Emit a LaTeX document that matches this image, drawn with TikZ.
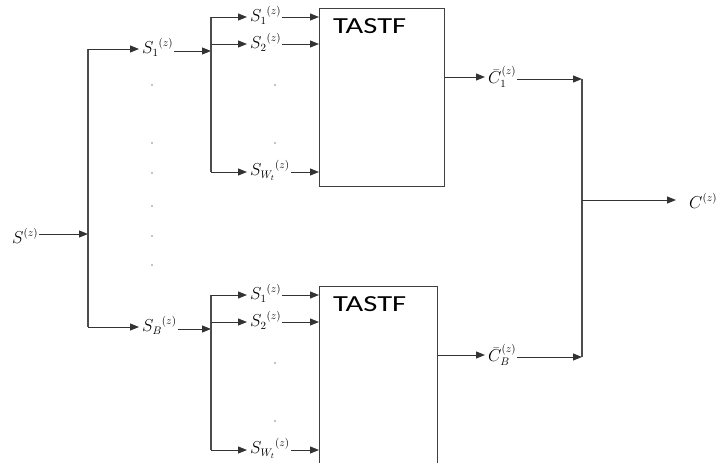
\documentclass[tikz,border=0pt]{standalone}
\usepackage{amsmath,amssymb}
\usepackage{fontspec}
\usepackage{graphicx}
\usepackage{tikz}
\usetikzlibrary{arrows.meta}
\setsansfont{Carlito}

\tikzset{
  sig/.style={inner sep=1pt, anchor=west, font=\fontsize{16}{16}\selectfont},
  flow/.style={draw=black!80, line width=1pt, -{Triangle[length=9pt,width=7pt]}},
  wire/.style={draw=black!70, line width=1.3pt},
  tastfbox/.style={draw=black!75, line width=1pt, anchor=north west, inner sep=0pt}
}
\newcommand{\blocktitle}{\scalebox{1.33}[1]{\fontsize{23}{23}\selectfont\sffamily TASTF}}

\begin{document}
\begin{tikzpicture}[x=1pt, y=-1pt]
  \useasboundingbox (0,0) rectangle (716,463);

  \node[sig] (sin) at (11,236) {$S^{(z)}$};
  \coordinate (split) at (88,234);
  \draw[flow] (sin.east |- split) -- (split);
  \coordinate (br1) at (88,49);
  \coordinate (br2) at (88,327);
  \draw[wire] (br1) -- (br2);
  \foreach \y in {85, 143, 173, 206, 236, 265}
    \fill (152,\y) circle (0.7pt);

  \foreach \k/\dy/\lb/\w/\h in {1/0/1/125/178, 2/278/B/118/185} {
    \node[sig] (in\k) at (141,47+\dy) {${S_{\lb}}^{(z)}$};
    \draw[flow, shorten >=2pt] (br\k) -- (in\k.west |- br\k);
    \coordinate (sp\k) at (211,51+\dy);
    \draw[flow] (in\k.east |- sp\k) -- (sp\k);
    \coordinate (top\k) at (211,17+\dy);
    \coordinate (bot\k) at (211,172+\dy);
    \draw[wire] (top\k) -- (bot\k);

    \node[tastfbox, minimum width=\w pt, minimum height=\h pt] (tastf\k) at (319,8+\dy) {};
    \node[anchor=west, inner sep=0pt] (title\k) at (333,26+\dy) {\blocktitle};

    \foreach \j/\yy/\sub in {a/17/1, b/44/2, w/172/{W_t}} {
      \coordinate (c\j\k) at (211,\yy+\dy);
      \node[sig] (s\j\k) at (249,\yy-2+\dy) {${S_{\sub}}^{(z)}$};
      \draw[flow, shorten >=2pt] (c\j\k) -- (s\j\k.west |- c\j\k);
      \draw[flow] (s\j\k.east |- c\j\k) -- (tastf\k.west |- c\j\k);
    }
    \fill (275,85+\dy) circle (0.7pt);
    \fill (275,143+\dy) circle (0.7pt);

    \node[sig] (out\k) at (487,77+\dy) {${\bar{C}_{\lb}}^{(z)}$};
    \draw[flow, shorten >=2pt] (tastf\k.east |- out\k.west) -- (out\k.west);
    \coordinate (mg\k) at (582,79+\dy);
    \draw[flow] (out\k.east |- mg\k) -- (mg\k);
  }

  \draw[wire] (mg1) -- (mg2);
  \coordinate (mo) at (582,200);
  \node[sig] (cout) at (688,201) {$C^{(z)}$};
  \draw[flow, shorten >=12pt] (mo) -- (cout.west |- mo);
\end{tikzpicture}
\end{document}
